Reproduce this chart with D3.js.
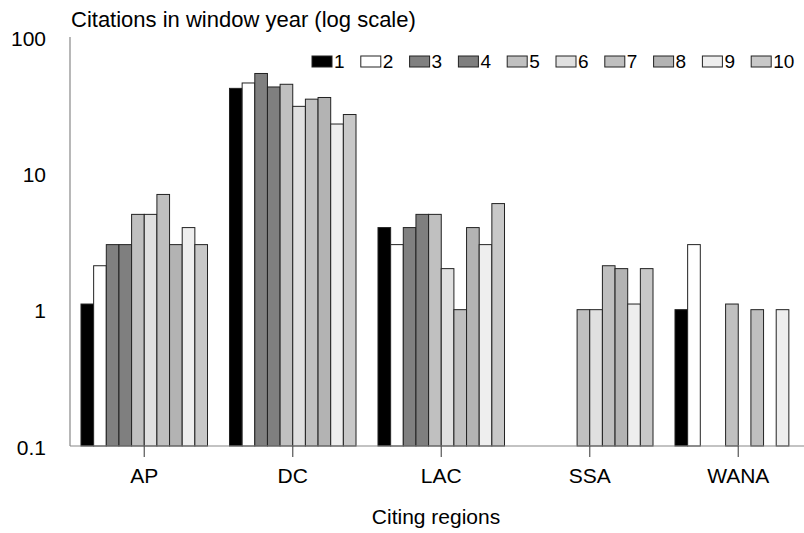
<!DOCTYPE html>
<html>
<head>
<meta charset="utf-8">
<script src="https://cdn.jsdelivr.net/npm/d3@7"></script>
<style>
  html, body { margin: 0; padding: 0; background: #fff; }
  svg { display: block; font-family: "Liberation Sans", Arial, sans-serif; }
</style>
</head>
<body>
<svg id="chart" width="804" height="533"></svg>
<script>
// Citing regions on the category axis
const regions = ["AP", "DC", "LAC", "SSA", "WANA"];
// Window years, one bar per year inside each region
const years = ["1", "2", "3", "4", "5", "6", "7", "8", "9", "10"];
// Citations per window year, indexed by region (null = no citations)
const year1  = [1.1, 42,   4,    null, 1];
const year2  = [2.1, 46,   3,    null, 3];
const year3  = [3,   54,   4,    null, null];
const year4  = [3,   43,   5,    null, null];
const year5  = [5,   45,   5,    1,    1.1];
const year6  = [5,   31,   2,    1,    null];
const year7  = [7,   35,   1,    2.1,  1];
const year8  = [3,   36,   4,    2,    null];
const year9  = [4,   23,   3,    1.1,  1];
const year10 = [3,   27,   6,    2,    null];
const yTicks = [0.1, 1, 10, 100];
const yTickLabels = ["0.1", "1", "10", "100"];

const seriesValues = [year1, year2, year3, year4, year5, year6, year7, year8, year9, year10];
const fills = ["#000000", "#ffffff", "#808080", "#7f7f7f", "#c0c0c0",
               "#e0e0e0", "#bfbfbf", "#b3b3b3", "#eeeeee", "#c8c8c8"];

const svg = d3.select("#chart");
const plotLeft = 70, plotBottom = 446, plotTop = 37;

const x = d3.scaleBand().domain(regions).range([plotLeft, plotLeft + 742.5])
  .paddingInner(0.148).paddingOuter(0.074);
const xi = d3.scaleBand().domain(years).range([0, x.bandwidth()]);
const y = d3.scaleLog().domain([0.1, 100]).range([plotBottom, plotTop]);

// bars
const g = svg.append("g");
regions.forEach((r, ri) => {
  years.forEach((yr, si) => {
    const v = seriesValues[si][ri];
    if (v == null) return;
    g.append("rect")
      .attr("x", x(r) + xi(yr))
      .attr("y", y(v))
      .attr("width", xi.bandwidth())
      .attr("height", y(0.1) - y(v))
      .attr("fill", fills[si])
      .attr("stroke", "#222")
      .attr("stroke-width", 1);
  });
});

// y axis
svg.append("line").attr("x1", plotLeft).attr("x2", plotLeft).attr("y1", plotTop).attr("y2", plotBottom)
  .attr("stroke", "#888").attr("stroke-width", 1.2);
svg.selectAll("text.ytick").data(yTicks).enter().append("text")
  .attr("class", "ytick")
  .attr("x", 46).attr("y", d => y(d))
  .attr("dy", "0.42em")
  .attr("text-anchor", "end")
  .attr("font-size", 21)
  .text((d, i) => yTickLabels[i]);

// x axis
svg.append("line").attr("x1", plotLeft).attr("x2", 804).attr("y1", plotBottom).attr("y2", plotBottom)
  .attr("stroke", "#888").attr("stroke-width", 1.2);
regions.forEach(r => {
  const cx = x(r) + x.bandwidth() / 2;
  svg.append("line").attr("x1", cx).attr("x2", cx).attr("y1", plotBottom).attr("y2", plotBottom + 11)
    .attr("stroke", "#555").attr("stroke-width", 1.2);
  svg.append("text").attr("x", cx).attr("y", 483)
    .attr("text-anchor", "middle").attr("font-size", 21).text(r);
});

// titles
svg.append("text").attr("x", 71).attr("y", 27).attr("font-size", 22)
  .text("Citations in window year (log scale)");
svg.append("text").attr("x", 436).attr("y", 524).attr("text-anchor", "middle")
  .attr("font-size", 21).text("Citing regions");

// legend
const legend = svg.append("g");
years.forEach((yr, i) => {
  const lx = 312 + i * 48.8;
  legend.append("rect").attr("x", lx).attr("y", 56).attr("width", 20).attr("height", 11)
    .attr("fill", fills[i]).attr("stroke", "#222").attr("stroke-width", 1);
  legend.append("text").attr("x", lx + 22).attr("y", 68).attr("font-size", 19).text(yr);
});
</script>
</body>
</html>
